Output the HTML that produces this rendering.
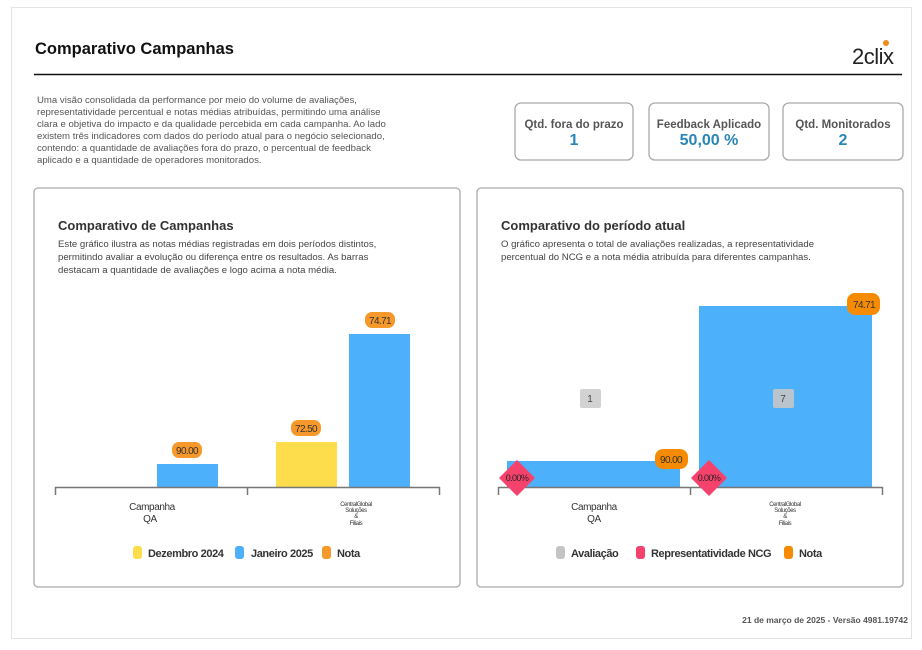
<!DOCTYPE html>
<html><head><meta charset="utf-8"><style>
body{margin:0;background:#fff;width:922px;height:645px;overflow:hidden;font-family:"Liberation Sans",sans-serif}
</style></head><body>
<svg width="922" height="645" xmlns="http://www.w3.org/2000/svg" font-family="Liberation Sans, sans-serif">
<rect x="11.5" y="7.5" width="900" height="631" fill="#fff" stroke="#e3e3e3"/>
<text x="35" y="54" font-size="16.5" font-weight="bold" fill="#111">Comparativo Campanhas</text>
<text x="852" y="64" font-size="22" fill="#222" letter-spacing="-0.5">2clix</text>
<circle cx="886" cy="43" r="3" fill="#f08a1c"/>
<line x1="34" y1="74.5" x2="902" y2="74.5" stroke="#111" stroke-width="1.5"/>
<g font-size="9.6" fill="#555">
<text x="37" y="103">Uma visão consolidada da performance por meio do volume de avaliações,</text>
<text x="37" y="115">representatividade percentual e notas médias atribuídas, permitindo uma análise</text>
<text x="37" y="127">clara e objetiva do impacto e da qualidade percebida em cada campanha. Ao lado</text>
<text x="37" y="139">existem três indicadores com dados do período atual para o negócio selecionado,</text>
<text x="37" y="151">contendo: a quantidade de avaliações fora do prazo, o percentual de feedback</text>
<text x="37" y="163">aplicado e a quantidade de operadores monitorados.</text>
</g>
<g stroke="#a9a9a9" stroke-width="1.3" fill="#fff">
<rect x="515" y="103" width="118" height="57" rx="6"/>
<rect x="649" y="103" width="120" height="57" rx="6"/>
<rect x="783" y="103" width="120" height="57" rx="6"/>
</g>
<g text-anchor="middle" font-weight="bold">
<text x="574" y="128" font-size="11.5" fill="#555">Qtd. fora do prazo</text>
<text x="574" y="145" font-size="16" fill="#2a86b8">1</text>
<text x="709" y="128" font-size="11.5" fill="#555">Feedback Aplicado</text>
<text x="709" y="145" font-size="16" fill="#2a86b8">50,00 %</text>
<text x="843" y="128" font-size="11.5" fill="#555">Qtd. Monitorados</text>
<text x="843" y="145" font-size="16" fill="#2a86b8">2</text>
</g>
<g stroke="#aaa" stroke-width="1.3" fill="#fff">
<rect x="34" y="188" width="426" height="399" rx="4"/>
<rect x="477" y="188" width="426" height="399" rx="4"/>
</g>
<!-- left -->
<text x="58" y="230" font-size="13" font-weight="bold" fill="#333">Comparativo de Campanhas</text>
<g font-size="9.6" fill="#444">
<text x="58" y="247">Este gráfico ilustra as notas médias registradas em dois períodos distintos,</text>
<text x="58" y="260">permitindo avaliar a evolução ou diferença entre os resultados. As barras</text>
<text x="58" y="273">destacam a quantidade de avaliações e logo acima a nota média.</text>
</g>
<rect x="157" y="464" width="61" height="23" fill="#4db0fb"/>
<rect x="276" y="442" width="61" height="45" fill="#fddd4c"/>
<rect x="349" y="334" width="61" height="153" fill="#4db0fb"/>
<g stroke="#777" stroke-width="1.5"><line x1="55" y1="487.5" x2="440" y2="487.5"/><line x1="55.5" y1="487" x2="55.5" y2="495"/><line x1="247.5" y1="487" x2="247.5" y2="495"/><line x1="439.5" y1="487" x2="439.5" y2="495"/></g>
<g fill="#f7982a"><rect x="172" y="442" width="30" height="16" rx="7"/><rect x="291" y="420" width="30" height="16" rx="7"/><rect x="365" y="312" width="30" height="16" rx="7"/></g>
<g font-size="10" fill="#333" text-anchor="middle" letter-spacing="-0.6"><text x="187" y="454">90.00</text><text x="306" y="432">72.50</text><text x="380" y="324">74.71</text></g>
<g fill="#333" text-anchor="middle" letter-spacing="-0.4"><text x="152" y="510" font-size="10">Campanha</text><text x="150" y="522" font-size="10">QA</text>
<g font-size="6"><text x="356" y="506">CentralGlobal</text><text x="356" y="512">Soluções</text><text x="356" y="518">&amp;</text><text x="356" y="525">Filiais</text></g></g>
<rect x="133" y="546" width="9" height="13" rx="3" fill="#fddd4c"/><rect x="235" y="546" width="9" height="13" rx="3" fill="#4db0fb"/><rect x="322" y="546" width="9" height="13" rx="3" fill="#f7982a"/>
<g font-size="11" font-weight="bold" fill="#333" letter-spacing="-0.4"><text x="148" y="557">Dezembro 2024</text><text x="251" y="557">Janeiro 2025</text><text x="337" y="557">Nota</text></g>
<!-- right -->
<text x="501" y="230" font-size="13" font-weight="bold" fill="#333">Comparativo do período atual</text>
<g font-size="9.6" fill="#444">
<text x="501" y="247">O gráfico apresenta o total de avaliações realizadas, a representatividade</text>
<text x="501" y="260">percentual do NCG e a nota média atribuída para diferentes campanhas.</text>
</g>
<rect x="507" y="461" width="173" height="26" fill="#4db0fb"/>
<rect x="699" y="306" width="173" height="181" fill="#4db0fb"/>
<g stroke="#777" stroke-width="1.5"><line x1="498" y1="487.5" x2="883" y2="487.5"/><line x1="498.5" y1="487" x2="498.5" y2="495"/><line x1="690.5" y1="487" x2="690.5" y2="495"/><line x1="882.5" y1="487" x2="882.5" y2="495"/></g>
<rect x="580" y="389" width="21" height="19" rx="2" fill="#d2d2d2"/><rect x="773" y="389" width="21" height="19" rx="2" fill="#b9c4cc"/>
<g font-size="10" fill="#444" text-anchor="middle"><text x="590" y="402">1</text><text x="783" y="402">7</text></g>
<g fill="#f5426c"><polygon points="517,460 535,478 517,496 499,478"/><polygon points="709,460 727,478 709,496 691,478"/></g>
<g font-size="9" fill="#222" text-anchor="middle" letter-spacing="-0.6"><text x="517" y="481">0.00%</text><text x="709" y="481">0.00%</text></g>
<g fill="#f78b00"><rect x="655" y="449" width="33" height="20" rx="8"/><rect x="847" y="293" width="33" height="22" rx="8"/></g>
<g font-size="10" fill="#333" text-anchor="middle" letter-spacing="-0.6"><text x="671" y="463">90.00</text><text x="864" y="308">74.71</text></g>
<g fill="#333" text-anchor="middle" letter-spacing="-0.4"><text x="594" y="510" font-size="10">Campanha</text><text x="594" y="522" font-size="10">QA</text>
<g font-size="6"><text x="785" y="506">CentralGlobal</text><text x="785" y="512">Soluções</text><text x="785" y="518">&amp;</text><text x="785" y="525">Filiais</text></g></g>
<rect x="556" y="546" width="9" height="13" rx="3" fill="#c4c4c4"/><rect x="636" y="546" width="9" height="13" rx="3" fill="#f5426c"/><rect x="784" y="546" width="9" height="13" rx="3" fill="#f78b00"/>
<g font-size="11" font-weight="bold" fill="#333" letter-spacing="-0.4"><text x="571" y="557">Avaliação</text><text x="651" y="557">Representatividade NCG</text><text x="799" y="557">Nota</text></g>
<text x="908" y="623" font-size="8.5" font-weight="bold" fill="#555" text-anchor="end">21 de março de 2025 - Versão 4981.19742</text>
</svg>
</body></html>
